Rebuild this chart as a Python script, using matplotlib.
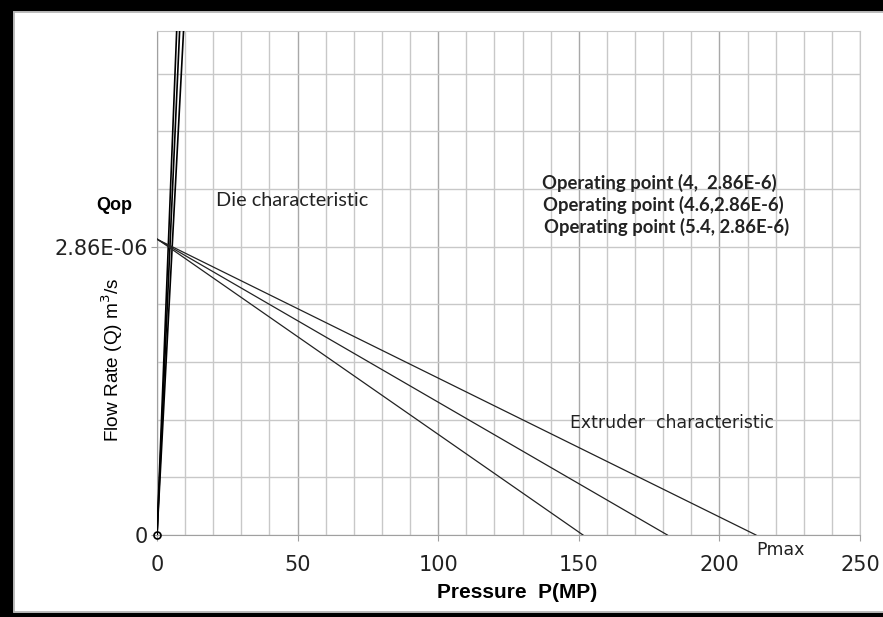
import numpy as np
import matplotlib.pyplot as plt
from matplotlib.patches import Rectangle

# operating points
p_op = [4.0, 4.6, 5.4]          # MPa
q_op = 2.86e-6                  # m^3/s
p_max = [151.5, 181.5, 213.0]   # extruder line end points (Q = 0)
q_top = 5.0e-6                  # top of the y axis

op_labels = ["Operating point (4,  2.86E-6)",
             "Operating point (4.6,2.86E-6)",
             "Operating point (5.4, 2.86E-6)"]

fig = plt.figure(figsize=(8.83, 6.17), dpi=100)
ax = fig.add_axes([157/883, 1-535/617, (860-157)/883, (535-31)/617])

grid_c = "#c8c8c8"

# die characteristic: through origin and the operating point
for p in p_op:
    ax.plot([0, p*q_top/q_op], [0, q_top], color="black", lw=1.2, zorder=3)

# extruder characteristic: from Qmax at P=0 down to Pmax
for p, pm in zip(p_op, p_max):
    qmax = q_op*pm/(pm - p)
    ax.plot([0, pm], [qmax, 0], color="#222222", lw=0.9, zorder=3)

ax.plot([0], [0], marker="o", ms=5, mfc="none", mec="black", mew=1.2, zorder=4,
        clip_on=False)

ax.set_xlim(0, 250)
ax.set_ylim(0, q_top)
ax.set_xticks([0, 50, 100, 150, 200, 250])
ax.set_xticks(np.arange(0, 251, 10), minor=True)
ax.set_yticks([0, q_op])
ax.set_yticklabels(["0", "2.86E-06"])
ax.set_yticks(np.arange(0, q_top, q_op/5), minor=True)

ax.grid(which="minor", color=grid_c, lw=1.0)
ax.grid(which="major", axis="x", color="#a8a8a8", lw=1.0)
ax.grid(which="major", axis="y", color=grid_c, lw=1.0)
ax.tick_params(which="minor", length=0)
ax.tick_params(which="major", length=4.5, color="#a0a0a0", labelsize=15,
               labelcolor="#222222")
ax.tick_params(axis="x", which="major", pad=10)
ax.tick_params(axis="y", which="major", pad=2)
for s in ax.spines.values():
    s.set_color(grid_c)
ax.spines["bottom"].set_color("#a0a0a0")
ax.spines["left"].set_color("#a0a0a0")
ax.set_axisbelow(True)

fig.text(517/883, 1-593/617, "Pressure  P(MP)", family="Liberation Sans",
         fontweight="bold", fontsize=15, ha="center", va="center")
fig.text(112/883, 1-360/617, "Flow Rate (Q) m$^3$/s", family="Liberation Sans",
         fontsize=13.7, rotation=90, ha="center", va="center")
fig.text(114/883, 1-206/617, "Qop", family="Liberation Sans", fontweight="bold",
         fontsize=13, ha="center", va="center")
fig.text(216/883, 1-200/617, "Die characteristic", family="Lato",
         fontsize=14.3, ha="left", va="center", color="#222222")
for i, t in enumerate(op_labels):
    fig.text((542 + i)/883, 1-(183 + 22*i)/617, t, family="Lato",
             fontweight="bold", fontsize=13.3, ha="left", va="center",
             color="#222222")
fig.text(570/883, 1-423/617, "Extruder  characteristic", family="DejaVu Sans",
         fontsize=12.4, ha="left", va="center", color="#222222")
fig.text(756/883, 1-550/617, "Pmax", family="DejaVu Sans", fontsize=12.5,
         ha="left", va="center", color="#222222")

# thick black frame on left/top/bottom, thin grey inner line
fig.patches.append(Rectangle((0, 0), 12/883, 1, transform=fig.transFigure,
                             color="black", zorder=0))
fig.patches.append(Rectangle((0, 1-10/617), 1, 10/617, transform=fig.transFigure,
                             color="black", zorder=0))
fig.patches.append(Rectangle((0, 0), 1, 4/617, transform=fig.transFigure,
                             color="black", zorder=0))
fig.patches.append(Rectangle((13.5/883, 5/617), 1.1, 1-16.5/617, transform=fig.transFigure,
                             fill=False, ec="#b0b0b0", lw=1.2, zorder=0))

fig.savefig("out.png", dpi=100)
